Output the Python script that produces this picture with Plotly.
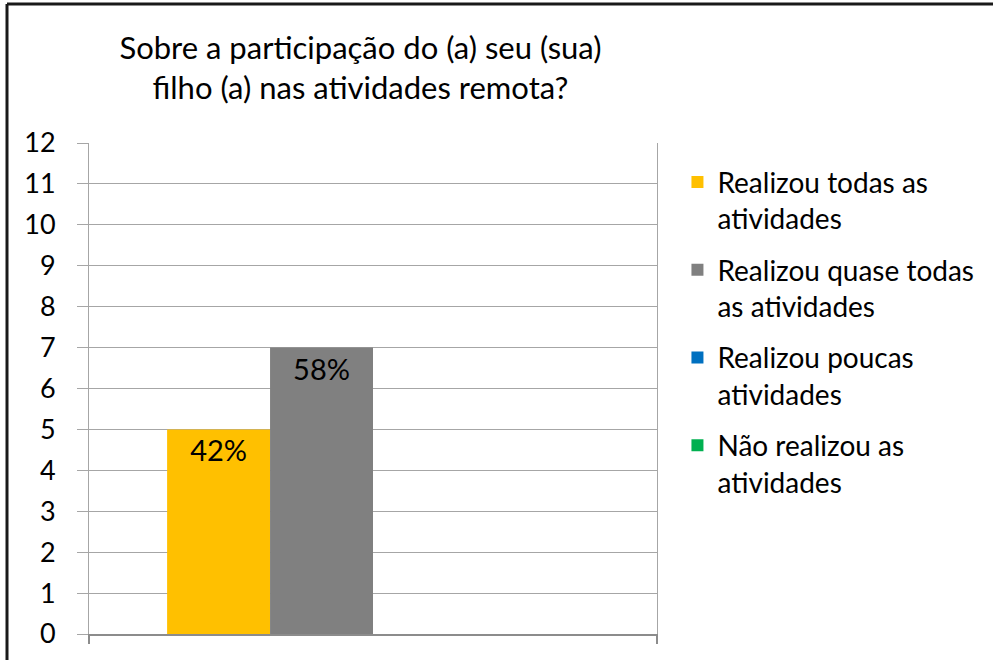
import plotly.graph_objects as go

# data
categorias = [""]
series = ["Realizou todas as<br>atividades",
          "Realizou quase todas<br>as atividades",
          "Realizou poucas<br>atividades",
          "Não realizou as<br>atividades"]
valores = [5, 7, 0, 0]
rotulos = ["42%", "58%", "", ""]
cores = ["#FFC000", "#808080", "#0070C0", "#00B050"]

fonte = "Lato, Calibri, sans-serif"

fig = go.Figure()
for i in range(len(series)):
    fig.add_trace(go.Bar(
        x=categorias, y=[valores[i]], name=series[i],
        marker=dict(color=cores[i], line=dict(width=0)),
        text=[rotulos[i]], textposition="inside", insidetextanchor="end",
        textfont=dict(size=29, color="black", family=fonte),
        legendgroup=str(i),
    ))

fig.update_layout(
    width=993, height=660,
    paper_bgcolor="white", plot_bgcolor="white",
    margin=dict(l=89, r=336, t=143, b=26),
    barmode="group", bargap=0.275, bargroupgap=0,
    font=dict(family=fonte, color="black"),
    title=dict(text="Sobre a participação do (a) seu (sua)<br>filho (a) nas atividades remota?",
               x=0.363, xanchor="center", y=0.911, yanchor="middle",
               font=dict(size=31, family=fonte, color="black")),
    legend=dict(x=1.036, xanchor="left", y=0.971, yanchor="top",
                font=dict(size=28, family=fonte, color="black"),
                valign="top", tracegroupgap=12, bgcolor="rgba(0,0,0,0)"),
    showlegend=True,
    uniformtext=dict(mode=False),
)

fig.update_yaxes(
    range=[0, 12], dtick=1, showgrid=True, gridcolor="#A6A6A6", gridwidth=1,
    showline=True, linecolor="#A6A6A6", linewidth=1, mirror=True,
    ticks="outside", ticklen=11, tickcolor="#A6A6A6",
    ticklabelstandoff=16,
    tickfont=dict(size=27, family=fonte, color="black"), zeroline=False,
)
fig.update_xaxes(
    showline=True, linecolor="#8C8C8C", linewidth=2,
    ticks="outside", tickson="boundaries", ticklen=8, tickcolor="#8C8C8C", tickwidth=2,
    showticklabels=False, showgrid=False,
)

# moldura externa
fig.add_shape(type="line", xref="paper", yref="paper",
              x0=(7 - 89) / 568, x1=(1000 - 89) / 568, y0=(634 - 4) / 491, y1=(634 - 4) / 491,
              line=dict(color="#1a1a1a", width=3))
fig.add_shape(type="line", xref="paper", yref="paper",
              x0=(7 - 89) / 568, x1=(7 - 89) / 568, y0=(634 - 4) / 491, y1=(634 - 670) / 491,
              line=dict(color="#1a1a1a", width=3))

fig.write_html("out.html", config={"displayModeBar": False},
               post_script="document.body.style.margin='0';")
